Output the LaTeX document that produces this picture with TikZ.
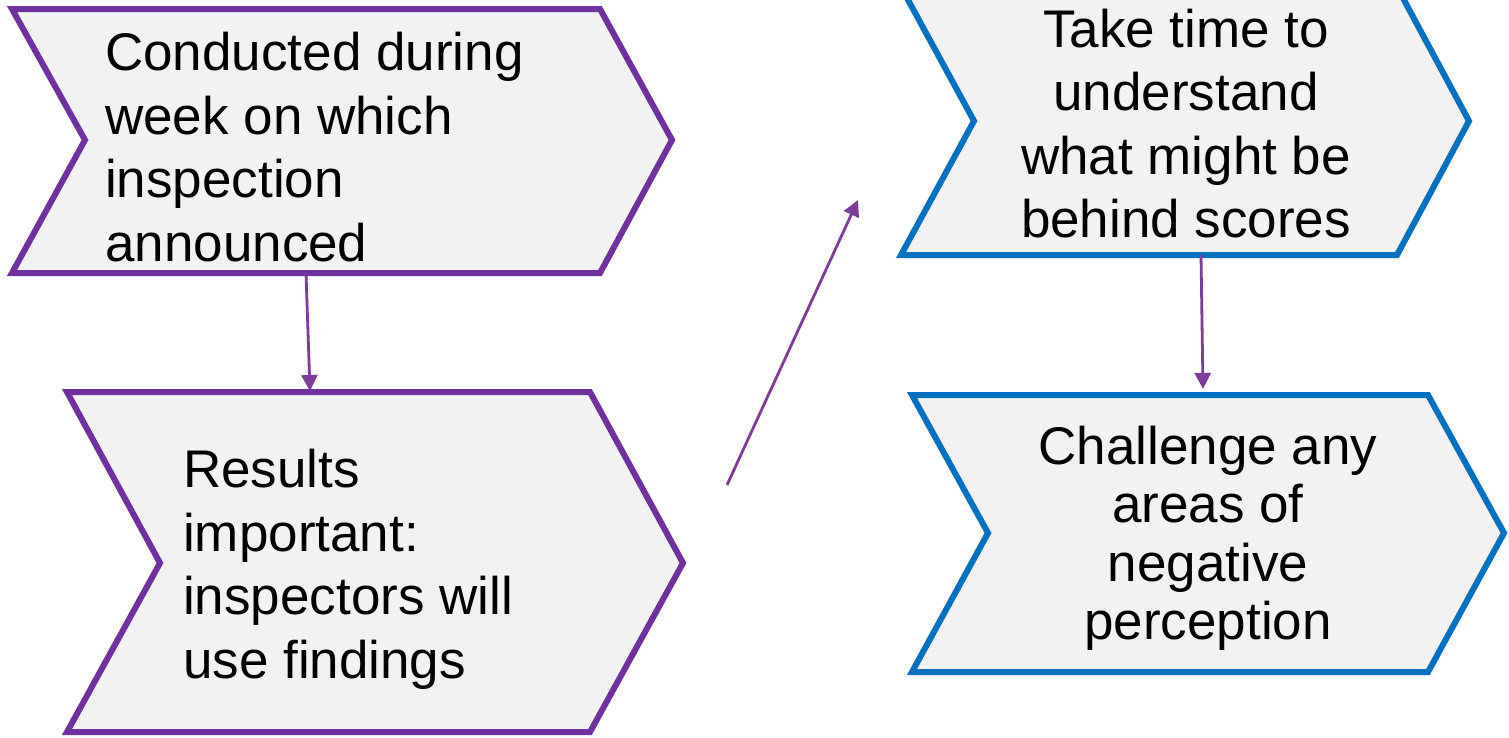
\documentclass[tikz,border=0pt]{standalone}
\usepackage{fontspec}
\setmainfont{Liberation Sans}
\usetikzlibrary{arrows.meta}
\definecolor{bpurple}{HTML}{7030A0}
\definecolor{apurple}{HTML}{7D3C98}
\definecolor{bblue}{HTML}{0070C0}
\definecolor{cfill}{HTML}{F2F2F2}
\begin{document}
\begin{tikzpicture}[x=1pt,y=-1pt,
  chev/.style={fill=cfill,line width=6pt,line join=miter},
  pchev/.style={chev,draw=bpurple},
  bchev/.style={chev,draw=bblue},
  txt/.style={inner sep=0pt,font=\fontsize{53}{63.5}\selectfont},
  conn/.style={draw=apurple,line width=2.8pt,-{Triangle[length=16pt,width=16pt]}}]
\useasboundingbox (0,0) rectangle (1509,737);
\clip (0,0) rectangle (1509,737);
% chevrons
\draw[pchev] (12,9) -- (600,9) -- (672,140) -- (600,273) -- (12,273) -- (85,140) -- cycle;
\draw[pchev] (67,392) -- (590,392) -- (683,563) -- (590,732) -- (67,732) -- (160,563) -- cycle;
\draw[bchev] (901,-13) -- (1397,-13) -- (1469,121) -- (1397,255) -- (901,255) -- (974,121) -- cycle;
\draw[bchev] (912,395) -- (1428,395) -- (1504,533) -- (1428,672) -- (912,672) -- (988,533) -- cycle;
% texts (base anchor = baseline of the last line)
\node[txt,anchor=base west,align=left] (t1) at (105,261) {Conducted during\\week on which\\inspection\\announced};
\node[txt,anchor=base west,align=left] (t2) at (183,678) {Results\\important:\\inspectors will\\use findings};
\node[txt,anchor=base,align=center] (t3) at (1186,237.5) {Take time to\\understand\\what might be\\behind scores};
\node[txt,anchor=base,align=center,font=\fontsize{53}{58.5}\selectfont] (t4) at (1208,639.5) {Challenge any\\areas of\\negative\\perception};
% connector endpoints
\coordinate (a1s) at (306,273);
\coordinate (a1e) at (310,391);
\coordinate (a2s) at (727,485);
\coordinate (a2e) at (858,200);
\coordinate (a3s) at (1201,255);
\coordinate (a3e) at (1203,389);
\draw[conn] (a1s) -- (a1e);
\draw[conn] (a2s) -- (a2e);
\draw[conn] (a3s) -- (a3e);
\end{tikzpicture}
\end{document}
